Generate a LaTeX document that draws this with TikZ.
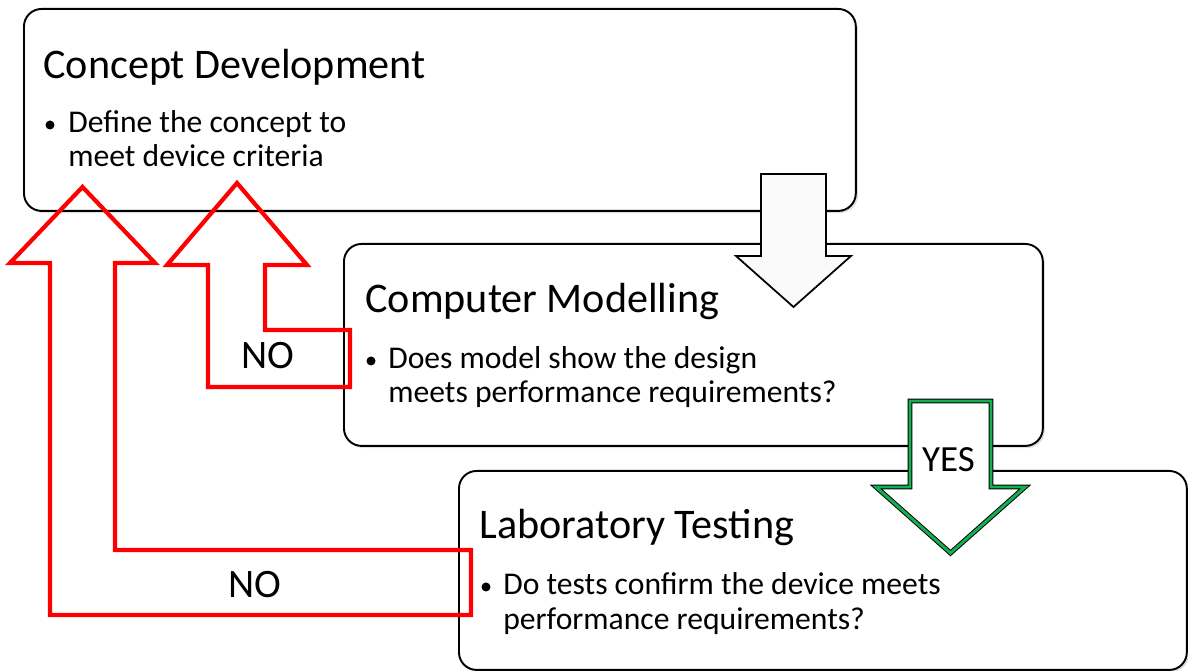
\documentclass[tikz,border=0pt]{standalone}
\usepackage{fontspec}
\setmainfont{Carlito}
\usetikzlibrary{positioning, calc, shadows}

\definecolor{noRed}{RGB}{255,0,0}
\definecolor{yesGreen}{RGB}{20,175,80}

\begin{document}
\begin{tikzpicture}[
    x=0.02cm, y=-0.02cm,
    stage/.style={rectangle, draw, line width=1.1pt, rounded corners=10pt, fill=white,
        minimum height=4.04cm, anchor=north west, inner sep=0pt,
        drop shadow={shadow xshift=1.2pt, shadow yshift=-1.2pt, opacity=0.25}},
    heading/.style={anchor=base west, inner sep=0pt, font=\fontsize{24}{29}\selectfont},
    point/.style={anchor=base west, inner sep=0pt, font=\fontsize{18}{22}\selectfont},
    dot/.style={circle, fill, inner sep=0pt, minimum size=0.18cm},
    answer/.style={anchor=base, inner sep=0pt},
    loopback/.style={draw=noRed, line width=2.4pt},
]
    \useasboundingbox (0,0) rectangle (1188,671);

    % the three stages
    \node[stage, minimum width=16.64cm] (concept) at (23,8) {};
    \node[stage, minimum width=13.98cm] (model) at (343,243) {};
    \node[stage, minimum width=14.56cm, minimum height=3.98cm] (lab) at (458,470) {};

    % forward arrows
    \draw[line width=1pt, fill=gray!4] (761,174) -- (826,174) -- (826,256) -- (851,256)
        -- (793.5,307) -- (736,256) -- (761,256) -- cycle;
    \draw[line width=2.8pt, fill=white] (910,401) -- (991,401) -- (991,487) -- (1025,487)
        -- (950.5,553) -- (876,487) -- (910,487) -- cycle;
    \draw[line width=1.7pt, yesGreen] (910,401) -- (991,401) -- (991,487) -- (1025,487)
        -- (950.5,553) -- (876,487) -- (910,487) -- cycle;

    % arrows back to the concept
    \draw[loopback] (237,183) -- (307,265) -- (265,265) -- (265,330) -- (350,330)
        -- (350,387) -- (208,387) -- (208,265) -- (167,265) -- cycle;
    \draw[loopback] (82.5,187) -- (155,263) -- (115,263) -- (115,550) -- (471,550)
        -- (471,615) -- (50,615) -- (50,263) -- (10,263) -- cycle;

    % stage texts
    \node[heading] (concepthead) at ($(concept.north west)+(20,71)$) {Concept Development};
    \node[dot] (conceptdot) at ($(concept.north west)+(27,117)$) {};
    \node[point] (concepta) at ($(concept.north west)+(45,125)$) {Define the concept to};
    \node[point] (conceptb) at ($(concept.north west)+(45,159)$) {meet device criteria};

    \node[heading] (modelhead) at ($(model.north west)+(22,70)$) {Computer Modelling};
    \node[dot] (modeldot) at ($(model.north west)+(28,118)$) {};
    \node[point] (modela) at ($(model.north west)+(45,126)$) {Does model show the design};
    \node[point] (modelb) at ($(model.north west)+(45,160)$) {meets performance requirements?};

    \node[heading] (labhead) at ($(lab.north west)+(21,69)$) {Laboratory Testing};
    \node[dot] (labdot) at ($(lab.north west)+(28,117)$) {};
    \node[point] (laba) at ($(lab.north west)+(45,125)$) {Do tests confirm the device meets};
    \node[point] (labb) at ($(lab.north west)+(45,160)$) {performance requirements?};

    % decisions
    \node[answer, font=\fontsize{23}{27}\selectfont] (nomodel) at (268,369) {NO};
    \node[answer, font=\fontsize{23}{27}\selectfont] (nolab) at (255,598) {NO};
    \node[answer, font=\fontsize{21}{25}\selectfont] (yes) at (948.5,472) {YES};
\end{tikzpicture}
\end{document}
